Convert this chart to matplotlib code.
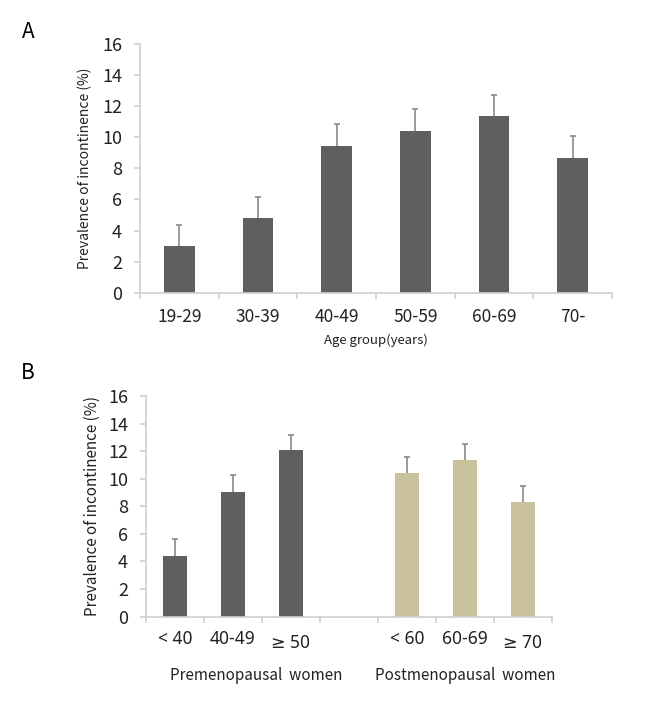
import matplotlib
matplotlib.use('Agg')
import matplotlib.pyplot as plt

plt.rcParams['font.family'] = ['Noto Sans CJK KR', 'DejaVu Sans']

# Panel A: prevalence by age group
age_groups = ['19-29', '30-39', '40-49', '50-59', '60-69', '70-']
age_prev = [3.0, 4.8, 9.45, 10.4, 11.36, 8.68]
age_err = [1.35, 1.35, 1.4, 1.4, 1.38, 1.38]

# Panel B: by menopausal status
pre_labels = ['< 40', '40-49', '≥ 50']
pre_prev = [4.42, 9.06, 12.06]
pre_err = [1.2, 1.2, 1.14]
post_labels = ['< 60', '60-69', '≥ 70']
post_prev = [10.39, 11.38, 8.34]
post_err = [1.19, 1.14, 1.16]

dark = '#5f5f5f'
beige = '#c9c19b'
axis_col = '#cfcfcf'
err_col = '#8a8a8a'


def style_axes(ax, n):
    for s in ['top', 'right']:
        ax.spines[s].set_visible(False)
    for s in ['left', 'bottom']:
        ax.spines[s].set_color(axis_col)
        ax.spines[s].set_linewidth(1.2)
    ax.set_ylim(0, 16)
    ax.set_yticks(range(0, 17, 2))
    ax.set_xlim(-0.5, n - 0.5)
    ax.set_xticks([i - 0.5 for i in range(n + 1)])
    ax.tick_params(axis='both', colors=axis_col, length=4, width=1.2)
    ax.tick_params(axis='y', labelcolor='#222222', labelsize=13, pad=9)
    ax.set_xticklabels([])


def upper_err(ax, x, y, err):
    eb = ax.errorbar(x, y, yerr=[[0] * len(x), err], fmt='none',
                     ecolor=err_col, elinewidth=1.2, capsize=2, capthick=1.2, zorder=1)
    # hide the lower caps sitting on the bar tops
    eb[1][0].set_visible(False)


fig = plt.figure(figsize=(6.5, 7.05), dpi=100)

# ---- A ----
axA = fig.add_axes([0.2154, 0.5848, 0.7262, 0.3528])
style_axes(axA, len(age_groups))
xa = list(range(len(age_groups)))
axA.bar(xa, age_prev, width=0.39, color=dark, zorder=2)
upper_err(axA, xa, age_prev, age_err)
for i, lab in enumerate(age_groups):
    axA.text(i, -0.06, lab, transform=axA.get_xaxis_transform(),
             ha='center', va='top', fontsize=12.5, color='#222222')
axA.text(2.5, -0.165, 'Age group(years)', transform=axA.get_xaxis_transform(),
         ha='center', va='top', fontsize=9.5, color='#222222')
axA.set_ylabel('Prevalence of incontinence (%)', fontsize=10, color='#222222', labelpad=7)
fig.text(0.044, 0.955, 'A', fontsize=15, ha='center', va='center')

# ---- B ----
axB = fig.add_axes([0.2246, 0.1253, 0.6246, 0.313])
style_axes(axB, 7)
xpre = [0, 1, 2]
xpost = [4, 5, 6]
axB.bar(xpre, pre_prev, width=0.41, color=dark, zorder=2)
axB.bar(xpost, post_prev, width=0.41, color=beige, zorder=2)
upper_err(axB, xpre, pre_prev, pre_err)
upper_err(axB, xpost, post_prev, post_err)
for xs, labs in [(xpre, pre_labels), (xpost, post_labels)]:
    for x, lab in zip(xs, labs):
        low = lab.startswith('≥')
        axB.text(x, -0.08 if low else -0.06, lab, transform=axB.get_xaxis_transform(),
                 ha='center', va='top', fontsize=12.5, color='#222222',
                 family=['Noto Sans', 'DejaVu Sans'])
axB.text(1.4, -0.23, 'Premenopausal  women', transform=axB.get_xaxis_transform(),
         ha='center', va='top', fontsize=11, color='#222222')
axB.text(5.0, -0.23, 'Postmenopausal  women', transform=axB.get_xaxis_transform(),
         ha='center', va='top', fontsize=11, color='#222222')
axB.set_ylabel('Prevalence of incontinence (%)', fontsize=11, color='#222222', labelpad=5)
fig.text(0.042, 0.471, 'B', fontsize=15, ha='center', va='center')

plt.savefig('out.png', dpi=100)
